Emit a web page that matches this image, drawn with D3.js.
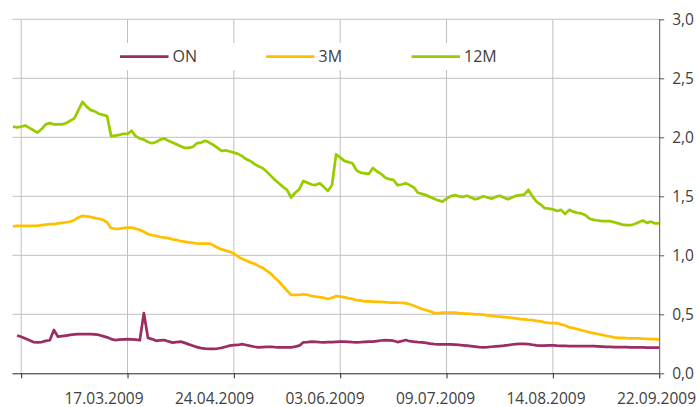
<!DOCTYPE html>
<html>
<head>
<meta charset="utf-8">
<script src="https://cdn.jsdelivr.net/npm/d3@7"></script>
<style>
  body { margin: 0; background: #fff; }
  svg { display: block; font-family: "Open Sans", sans-serif; }
</style>
</head>
<body>
<div id="chart"></div>
<script>
// Chart size (same as the browser window)
var width = 699;
var height = 407;

// Series names, one value per trading day (index 0 .. 158)
var seriesNames = ["ON", "3M", "12M"];

var onValues = [null,
  0.32, 0.31, 0.295, 0.28, 0.265, 0.263, 0.265, 0.275, 0.28, 0.367,
  0.31, 0.315, 0.32, 0.325, 0.33, 0.333, 0.333, 0.333, 0.332, 0.33,
  0.325, 0.315, 0.305, 0.29, 0.282, 0.285, 0.288, 0.29, 0.288, 0.285,
  0.28, 0.51, 0.30, 0.29, 0.275, 0.28, 0.282, 0.27, 0.26, 0.265,
  0.268, 0.258, 0.245, 0.234, 0.222, 0.214, 0.21, 0.207, 0.206, 0.21,
  0.216, 0.225, 0.234, 0.238, 0.24, 0.248, 0.24, 0.232, 0.225, 0.22,
  0.222, 0.224, 0.225, 0.222, 0.22, 0.22, 0.22, 0.22, 0.226, 0.234,
  0.263, 0.265, 0.268, 0.266, 0.264, 0.263, 0.264, 0.265, 0.267, 0.268,
  0.268, 0.266, 0.264, 0.263, 0.264, 0.266, 0.268, 0.268, 0.273, 0.278,
  0.282, 0.279, 0.276, 0.265, 0.272, 0.282, 0.272, 0.268, 0.265, 0.263,
  0.258, 0.252, 0.247, 0.246, 0.246, 0.246, 0.246, 0.243, 0.24, 0.237,
  0.234, 0.23, 0.226, 0.222, 0.22, 0.222, 0.225, 0.228, 0.231, 0.234,
  0.238, 0.244, 0.248, 0.249, 0.249, 0.248, 0.242, 0.236, 0.234, 0.235,
  0.237, 0.236, 0.234, 0.233, 0.232, 0.231, 0.231, 0.231, 0.231, 0.231,
  0.231, 0.23, 0.228, 0.226, 0.224, 0.223, 0.222, 0.222, 0.221, 0.221,
  0.22, 0.22, 0.22, 0.219, 0.218, 0.218, 0.217, 0.217];

var m3Values = [
  1.245, 1.25, 1.25, 1.25, 1.25, 1.25, 1.25, 1.255, 1.26, 1.265,
  1.265, 1.27, 1.275, 1.28, 1.285, 1.30, 1.32, 1.335, 1.33, 1.325,
  1.315, 1.31, 1.30, 1.28, 1.23, 1.225, 1.225, 1.23, 1.235, 1.235,
  1.225, 1.215, 1.20, 1.18, 1.17, 1.165, 1.155, 1.15, 1.145, 1.135,
  1.13, 1.12, 1.115, 1.11, 1.105, 1.10, 1.10, 1.10, 1.10, 1.085,
  1.065, 1.05, 1.04, 1.03, 1.015, 0.99, 0.97, 0.955, 0.94, 0.93,
  0.91, 0.895, 0.87, 0.845, 0.81, 0.78, 0.74, 0.70, 0.665, 0.665,
  0.665, 0.67, 0.665, 0.655, 0.65, 0.645, 0.64, 0.63, 0.64, 0.655,
  0.65, 0.645, 0.635, 0.63, 0.62, 0.615, 0.61, 0.61, 0.608, 0.606,
  0.605, 0.603, 0.60, 0.60, 0.598, 0.597, 0.595, 0.585, 0.572, 0.56,
  0.545, 0.535, 0.525, 0.51, 0.51, 0.515, 0.515, 0.515, 0.515, 0.51,
  0.507, 0.505, 0.503, 0.50, 0.50, 0.497, 0.49, 0.487, 0.483, 0.48,
  0.477, 0.473, 0.47, 0.465, 0.46, 0.457, 0.453, 0.45, 0.445, 0.44,
  0.432, 0.428, 0.426, 0.425, 0.415, 0.405, 0.39, 0.383, 0.375, 0.365,
  0.356, 0.347, 0.34, 0.333, 0.325, 0.318, 0.312, 0.305, 0.30, 0.30,
  0.298, 0.297, 0.295, 0.295, 0.293, 0.292, 0.29, 0.29, 0.288];

var m12Values = [
  2.09, 2.085, 2.09, 2.10, 2.08, 2.06, 2.04, 2.07, 2.11, 2.12,
  2.11, 2.11, 2.11, 2.12, 2.14, 2.16, 2.23, 2.30, 2.26, 2.23,
  2.22, 2.20, 2.19, 2.18, 2.01, 2.015, 2.02, 2.03, 2.03, 2.055,
  2.01, 1.99, 1.98, 1.96, 1.95, 1.96, 1.98, 1.99, 1.97, 1.955,
  1.94, 1.925, 1.91, 1.91, 1.92, 1.95, 1.955, 1.97, 1.955, 1.935,
  1.91, 1.885, 1.89, 1.88, 1.87, 1.86, 1.84, 1.815, 1.80, 1.775,
  1.755, 1.74, 1.71, 1.675, 1.64, 1.61, 1.58, 1.555, 1.49, 1.53,
  1.56, 1.63, 1.615, 1.60, 1.595, 1.61, 1.58, 1.545, 1.595, 1.855,
  1.83, 1.80, 1.79, 1.78, 1.72, 1.70, 1.695, 1.69, 1.74, 1.71,
  1.69, 1.66, 1.645, 1.64, 1.595, 1.60, 1.61, 1.595, 1.575, 1.53,
  1.52, 1.51, 1.495, 1.48, 1.465, 1.455, 1.48, 1.50, 1.51, 1.50,
  1.495, 1.505, 1.49, 1.475, 1.485, 1.50, 1.49, 1.48, 1.495, 1.505,
  1.49, 1.475, 1.49, 1.505, 1.51, 1.515, 1.555, 1.50, 1.455, 1.43,
  1.40, 1.395, 1.39, 1.375, 1.385, 1.35, 1.385, 1.37, 1.36, 1.355,
  1.34, 1.31, 1.30, 1.295, 1.29, 1.29, 1.29, 1.28, 1.27, 1.26,
  1.255, 1.255, 1.265, 1.28, 1.295, 1.275, 1.285, 1.27, 1.27];

// x axis: trading day index of each tick, and the labelled dates
var gridDays = [2, 28, 54, 80, 106, 132, 158];
var labelDays = [28, 54, 80, 106, 132, 158];
var dateLabels = ["17.03.2009", "24.04.2009", "03.06.2009", "09.07.2009", "14.08.2009", "22.09.2009"];

// y axis ticks
var yTicks = [0, 0.5, 1, 1.5, 2, 2.5, 3];

var colors = ["#9B2D62", "#FFC000", "#99CC00"];

var svg = d3.select("#chart").append("svg")
  .attr("width", width)
  .attr("height", height);

// Scales
var x = d3.scaleLinear().domain([0, 158]).range([13, 659.2]);
var y = d3.scaleLinear().domain([0, 3]).range([373.3, 19.3]);
// Excel spreads the date labels a little wider than the ticks
var labelX = d3.scaleLinear().domain([28, 158]).range([104, 656.5]);

// Horizontal gridlines
svg.append("g")
  .selectAll("line")
  .data(yTicks.slice(1))
  .enter().append("line")
  .attr("x1", 12.5)
  .attr("x2", x(158))
  .attr("y1", function(d) { return y(d); })
  .attr("y2", function(d) { return y(d); })
  .style("stroke", "#C0C0C0")
  .style("stroke-width", 1);

// Vertical gridlines
svg.append("g")
  .selectAll("line")
  .data(gridDays.slice(0, -1))
  .enter().append("line")
  .attr("x1", function(d) { return x(d); })
  .attr("x2", function(d) { return x(d); })
  .attr("y1", y(3))
  .attr("y2", y(0))
  .style("stroke", "#C0C0C0")
  .style("stroke-width", 1);

// Legend box hides gridlines behind it
svg.append("rect")
  .attr("x", 100)
  .attr("y", 43)
  .attr("width", 420)
  .attr("height", 27)
  .style("fill", "#fff");

// Lines
var line = d3.line()
  .defined(function(d) { return d != null; })
  .x(function(d, i) { return x(i); })
  .y(function(d) { return y(d); });

[onValues, m3Values, m12Values].forEach(function(values, k) {
  svg.append("path")
    .datum(values)
    .attr("fill", "none")
    .attr("stroke", colors[k])
    .attr("stroke-width", 2.75)
    .attr("stroke-linejoin", "round")
    .attr("d", line);
});

// Bottom axis
var xAxis = svg.append("g")
  .attr("transform", "translate(0," + y(0) + ")")
  .call(d3.axisBottom(x).tickValues(gridDays).tickSize(5).tickFormat(""));
xAxis.select(".domain").attr("d", "M12.5,0.5H" + x(158));
xAxis.selectAll("line").style("stroke", "#262626");
xAxis.select(".domain").style("stroke", "#262626");

svg.append("g")
  .selectAll("text")
  .data(labelDays)
  .enter().append("text")
  .attr("x", function(d) { return labelX(d); })
  .attr("y", 403.5)
  .attr("text-anchor", "middle")
  .style("font-size", "15.5px")
  .style("fill", "#404040")
  .text(function(d, i) { return dateLabels[i]; });

// Right axis
var yAxis = svg.append("g")
  .attr("transform", "translate(" + x(158) + ",0)")
  .call(d3.axisRight(y).tickValues(yTicks).tickSize(5).tickPadding(8)
    .tickFormat(function(d) { return d.toFixed(1).replace(".", ","); }));
yAxis.select(".domain").attr("d", "M0.5," + y(3) + "V" + (y(0) + 5)).style("stroke", "#595959");
yAxis.selectAll("line").style("stroke", "#595959");
yAxis.selectAll("text")
  .style("font-size", "15.5px")
  .style("font-family", "Open Sans, sans-serif")
  .style("fill", "#404040");

// Legend
var legendX = [120, 266, 411.5];
var legend = svg.append("g");
seriesNames.forEach(function(name, k) {
  legend.append("line")
    .attr("x1", legendX[k])
    .attr("x2", legendX[k] + 48.5)
    .attr("y1", 56.7)
    .attr("y2", 56.7)
    .style("stroke", colors[k])
    .style("stroke-width", 2.75);
  legend.append("text")
    .attr("x", legendX[k] + 52.5)
    .attr("y", 56.7)
    .attr("dy", "0.36em")
    .style("font-size", "16px")
    .style("fill", "#404040")
    .text(name);
});
</script>
</body>
</html>
